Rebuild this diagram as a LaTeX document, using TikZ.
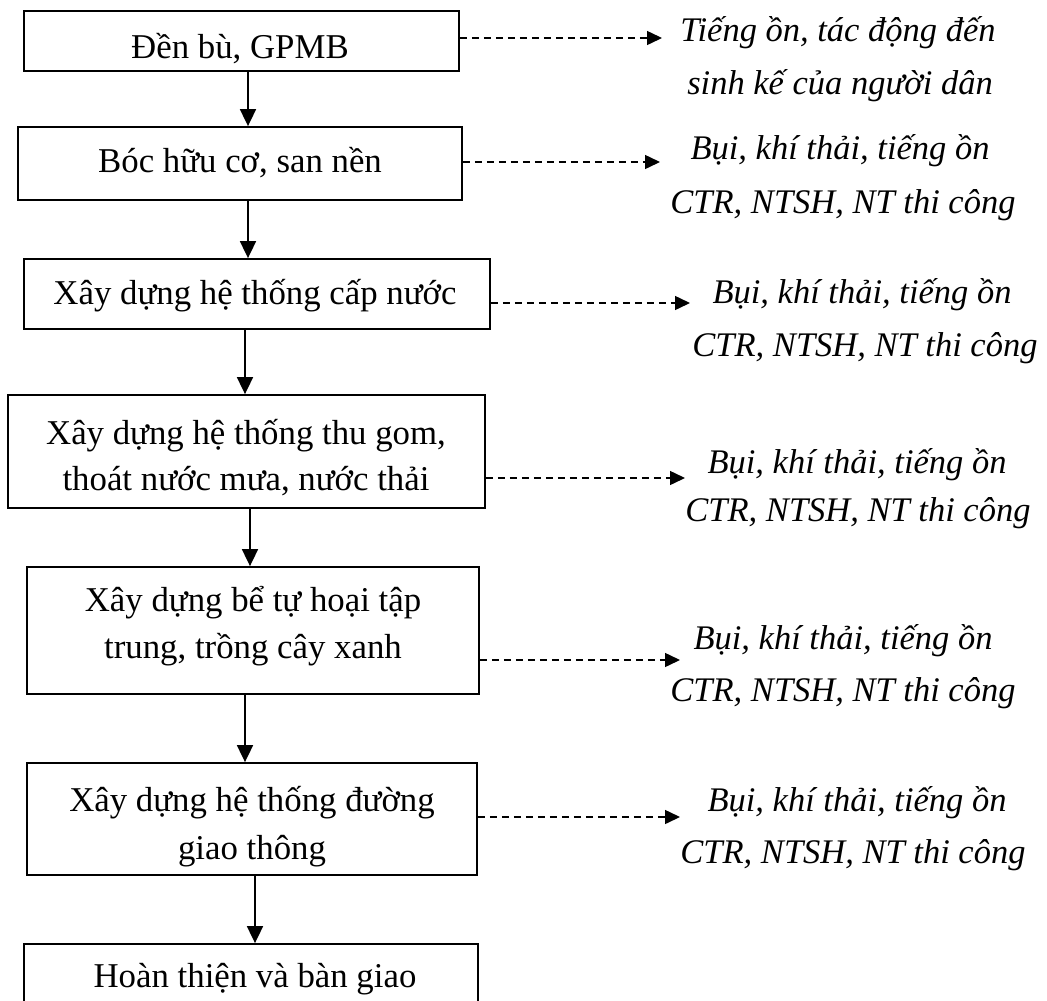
\documentclass[tikz,border=0pt]{standalone}
\usepackage{fontspec}
\setmainfont{Liberation Serif}
\usetikzlibrary{arrows.meta}
\begin{document}
\begin{tikzpicture}[x=1pt,y=-1pt,
  stepbox/.style={draw, line width=1.8pt, inner sep=0pt},
  boxtxt/.style={font=\fontsize{34.8}{50}\selectfont, anchor=base, inner sep=0pt},
  efftxt/.style={font=\fontsize{34.5}{50}\selectfont\itshape, anchor=base, inner sep=0pt},
  flow/.style={line width=1.8pt, -{Triangle[length=17pt,width=16pt]}},
  effect/.style={line width=1.5pt, dash pattern=on 7pt off 5pt, -{Triangle[length=15pt,width=14pt]}}]
\clip (0,0) rectangle (1047,1001);
\fill[white] (0,0) rectangle (1047,1001);

% process steps
\node[stepbox, minimum width=435pt, minimum height=60pt]  (b1) at (241.5,41) {};
\node[stepbox, minimum width=444pt, minimum height=73pt]  (b2) at (240,163.5) {};
\node[stepbox, minimum width=466pt, minimum height=70pt]  (b3) at (257,294) {};
\node[stepbox, minimum width=477pt, minimum height=113pt] (b4) at (246.5,451.5) {};
\node[stepbox, minimum width=452pt, minimum height=127pt] (b5) at (253,630.5) {};
\node[stepbox, minimum width=450pt, minimum height=112pt] (b6) at (252,819) {};
\node[stepbox, minimum width=454pt, minimum height=120pt] (b7) at (251,1004) {};

\node[boxtxt] (s1)  at (240,58)  {Đền bù, GPMB};
\node[boxtxt] (s2)  at (240,172) {Bóc hữu cơ, san nền};
\node[boxtxt] (s3)  at (255,304) {Xây dựng hệ thống cấp nước};
\node[boxtxt] (s4a) at (246,444) {Xây dựng hệ thống thu gom,};
\node[boxtxt] (s4b) at (246,490) {thoát nước mưa, nước thải};
\node[boxtxt] (s5a) at (253,611) {Xây dựng bể tự hoại tập};
\node[boxtxt] (s5b) at (253,658) {trung, trồng cây xanh};
\node[boxtxt] (s6a) at (252,811) {Xây dựng hệ thống đường};
\node[boxtxt] (s6b) at (252,859) {giao thông};
\node[boxtxt] (s7)  at (255,987) {Hoàn thiện và bàn giao};

% columns of the vertical connectors
\coordinate (x12) at (248,0);
\coordinate (x23) at (248,0);
\coordinate (x34) at (245,0);
\coordinate (x45) at (250,0);
\coordinate (x56) at (245,0);
\coordinate (x67) at (255,0);
\draw[flow] (b1.south -| x12) -- (b2.north -| x12);
\draw[flow] (b2.south -| x23) -- (b3.north -| x23);
\draw[flow] (b3.south -| x34) -- (b4.north -| x34);
\draw[flow] (b4.south -| x45) -- (b5.north -| x45);
\draw[flow] (b5.south -| x56) -- (b6.north -| x56);
\draw[flow] (b6.south -| x67) -- (b7.north -| x67);

% impacts of each step
\coordinate (e1) at (662,38);
\coordinate (e2) at (660,162);
\coordinate (e3) at (690,303);
\coordinate (e4) at (685,478);
\coordinate (e5) at (680,660);
\coordinate (e6) at (680,817);
\draw[effect] (e1 -| b1.east) -- (e1);
\draw[effect] (e2 -| b2.east) -- (e2);
\draw[effect] (e3 -| b3.east) -- (e3);
\draw[effect] (e4 -| b4.east) -- (e4);
\draw[effect] (e5 -| b5.east) -- (e5);
\draw[effect] (e6 -| b6.east) -- (e6);

\node[efftxt] (t1a) at (838,41)  {Tiếng ồn, tác động đến};
\node[efftxt] (t1b) at (840,94)  {sinh kế của người dân};
\node[efftxt] (t2a) at (840,159) {Bụi, khí thải, tiếng ồn};
\node[efftxt] (t2b) at (843,213) {CTR, NTSH, NT thi công};
\node[efftxt] (t3a) at (862,303) {Bụi, khí thải, tiếng ồn};
\node[efftxt] (t3b) at (865,356) {CTR, NTSH, NT thi công};
\node[efftxt] (t4a) at (857,473) {Bụi, khí thải, tiếng ồn};
\node[efftxt] (t4b) at (858,521) {CTR, NTSH, NT thi công};
\node[efftxt] (t5a) at (843,649) {Bụi, khí thải, tiếng ồn};
\node[efftxt] (t5b) at (843,701) {CTR, NTSH, NT thi công};
\node[efftxt] (t6a) at (857,811) {Bụi, khí thải, tiếng ồn};
\node[efftxt] (t6b) at (853,863) {CTR, NTSH, NT thi công};
\end{tikzpicture}
\end{document}
